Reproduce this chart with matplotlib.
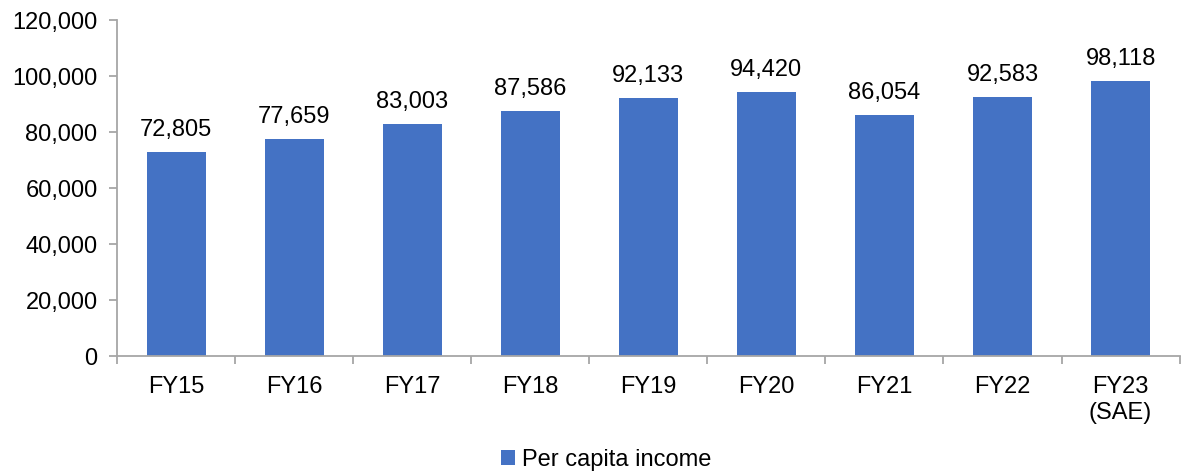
import numpy as np
import matplotlib
matplotlib.use("Agg")
import matplotlib.pyplot as plt
from matplotlib.ticker import FuncFormatter, FixedLocator

plt.rcParams['font.family'] = ['Liberation Sans', 'DejaVu Sans']

# data
categories = ["FY15", "FY16", "FY17", "FY18", "FY19", "FY20", "FY21", "FY22", "FY23\n(SAE)"]
income = [72805, 77659, 83003, 87586, 92133, 94420, 86054, 92583, 98118]

bar_color = "#4472C4"
axis_color = "#A6A6A6"

fig = plt.figure(figsize=(11.82, 4.77), dpi=100)
ax = fig.add_axes([0.099, 0.2516, 0.899, 0.7044])

x = np.arange(len(categories))
bars = ax.bar(x, income, width=0.5, color=bar_color, label="Per capita income", zorder=2)

for xi, v in zip(x, income):
    ax.text(xi, v + 4200, f"{v:,}", ha="center", va="bottom", fontsize=17, color="black")

ax.set_xlim(-0.5, len(categories) - 0.5)
ax.set_ylim(0, 120000)
ax.set_yticks(np.arange(0, 120001, 20000))
ax.yaxis.set_major_formatter(FuncFormatter(lambda v, p: f"{int(v):,}"))

ax.set_xticks(x)
ax.set_xticklabels(categories)
ax.xaxis.set_minor_locator(FixedLocator(np.arange(-0.5, len(categories), 1.0)))
ax.tick_params(axis="x", which="major", length=0, pad=14, labelsize=17)
ax.tick_params(axis="x", which="minor", length=6, color=axis_color, width=1.3)
ax.tick_params(axis="y", length=6, color=axis_color, width=1.3, labelsize=17, pad=8)

for s in ["top", "right"]:
    ax.spines[s].set_visible(False)
for s in ["left", "bottom"]:
    ax.spines[s].set_color(axis_color)
    ax.spines[s].set_linewidth(1.3)

fig.legend(handles=[bars], labels=["Per capita income"], loc="lower center",
           bbox_to_anchor=(0.513, -0.033), frameon=False, fontsize=17,
           handlelength=0.6, handleheight=0.6, handletextpad=0.3)

fig.savefig("out.png", dpi=100)
